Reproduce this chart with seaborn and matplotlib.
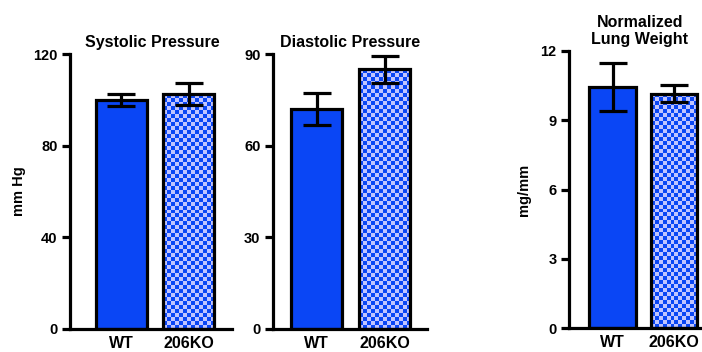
import numpy as np
import pandas as pd
import seaborn as sns
import matplotlib.pyplot as plt
from matplotlib.colors import ListedColormap

groups = ['WT', '206KO']

systolic_mean = [99.9, 102.5]
systolic_sem = [2.6, 4.8]

diastolic_mean = [72.0, 85.0]
diastolic_sem = [5.3, 4.5]

lung_mean = [10.45, 10.15]
lung_sem = [1.05, 0.38]

blue = '#0a46f5'
light = '#c0c4ff'

sns.set_style('ticks')
plt.rcParams['font.family'] = ['Liberation Sans', 'DejaVu Sans']
plt.rcParams['font.weight'] = 'bold'
plt.rcParams['text.color'] = 'black'
plt.rcParams['xtick.color'] = 'black'
plt.rcParams['ytick.color'] = 'black'
plt.rcParams['axes.labelcolor'] = 'black'

fig = plt.figure(figsize=(7.02, 3.52), dpi=100)
W, H = 702, 352


def px_axes(left, right, top, bottom):
    return fig.add_axes([left / W, 1 - bottom / H, (right - left) / W, (bottom - top) / H])


def checker_fill(ax, patch, cell=4.0):
    # checkerboard drawn inside the bar, clipped to the bar outline
    x0, y0 = patch.get_x(), patch.get_y()
    x1, y1 = x0 + patch.get_width(), y0 + patch.get_height()
    (px0, py0), (px1, py1) = ax.transData.transform([(x0, y0), (x1, y1)])
    nx = max(1, int(round(abs(px1 - px0) / cell)))
    ny = max(1, int(round(abs(py1 - py0) / cell)))
    board = np.indices((ny, nx)).sum(axis=0) % 2
    im = ax.imshow(board, cmap=ListedColormap([light, blue]), extent=(x0, x1, y0, y1),
                   origin='lower', aspect='auto', interpolation='nearest', zorder=2)
    im.set_clip_path(patch)
    patch.set_facecolor('none')
    patch.set_zorder(3)


def panel(ax, means, sems, title, ylim, yticks, xlim, ylabel=None, title_x=0.5):
    df = pd.DataFrame({'group': groups, 'value': means})
    sns.barplot(data=df, x='group', y='value', hue='group', palette=[blue, blue],
                saturation=1, legend=False, width=0.76, edgecolor='black',
                linewidth=2.3, errorbar=None, ax=ax)
    ax.set_xlim(*xlim)
    ax.set_ylim(*ylim)
    ax.errorbar(range(len(groups)), means, yerr=sems, fmt='none', ecolor='black',
                elinewidth=2.3, capsize=10, capthick=2.3, zorder=5)
    checker_fill(ax, ax.patches[1])
    ax.set_xlim(*xlim)
    ax.set_ylim(*ylim)
    ax.set_yticks(yticks)
    ax.set_yticklabels([str(t) for t in yticks], fontsize=10.5, fontweight='bold')
    ax.set_xticks(range(len(groups)))
    ax.set_xticklabels(groups, fontsize=11.5, fontweight='bold')
    ax.tick_params(axis='x', length=0, pad=5)
    ax.tick_params(axis='y', length=6, width=2.3, pad=3)
    for s in ['top', 'right']:
        ax.spines[s].set_visible(False)
    for s in ['left', 'bottom']:
        ax.spines[s].set_linewidth(2.3)
        ax.spines[s].set_color('black')
    ax.set_xlabel('')
    ax.set_ylabel(ylabel if ylabel else '', fontsize=10.5, fontweight='bold')
    ax.set_title(title, fontsize=11.5, fontweight='bold', x=title_x, pad=5)
    ax.set_facecolor('white')


ax1 = px_axes(70, 232, 54, 329)
panel(ax1, systolic_mean, systolic_sem, 'Systolic Pressure', (0, 120), [0, 40, 80, 120],
      (-0.76, 1.64), ylabel='mm Hg', title_x=0.51)
ax1.yaxis.set_label_coords(-0.27, 0.5)

ax2 = px_axes(273, 427, 54, 329)
panel(ax2, diastolic_mean, diastolic_sem, 'Diastolic Pressure', (0, 90), [0, 30, 60, 90],
      (-0.64, 1.625))

ax3 = px_axes(569, 719, 51, 328)
panel(ax3, lung_mean, lung_sem, 'Normalized\nLung Weight', (0, 12), [0, 3, 6, 9, 12],
      (-0.71, 1.73), ylabel='mg/mm', title_x=0.473)
ax3.yaxis.set_label_coords(-0.25, 0.5)

fig.savefig('out.png', dpi=100, facecolor='white')
